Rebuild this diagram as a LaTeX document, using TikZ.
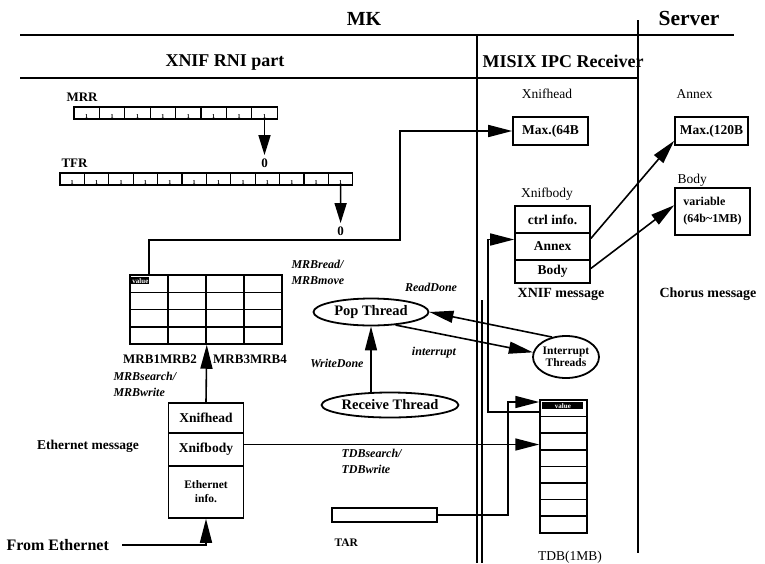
\documentclass[tikz,border=0pt]{standalone}
\usepackage{fontspec}
\setmainfont{Liberation Serif}
\usetikzlibrary{arrows.meta,positioning,shapes.geometric,calc}
\tikzset{
  hrule/.style={line width=2pt},
  vrule/.style={line width=2.8pt},
  bitcell/.style={draw, line width=1.3pt, minimum height=12pt, inner sep=0pt,
                  label={[anchor=south, inner sep=0.8pt, font=\bfseries\fontsize{6}{6}\selectfont]south:1}},
  mrbcell/.style={draw, line width=1.5pt, minimum width=38pt, minimum height=17.25pt, inner sep=0pt},
  tdbcell/.style={draw, line width=1.5pt, minimum width=47pt, minimum height=16.6pt, inner sep=0pt},
  valtag/.style={anchor=north west, fill=black, text=white, inner sep=1pt,
                 font=\bfseries\fontsize{7}{7}\selectfont},
  msgbox/.style={draw, line width=1.6pt, minimum width=75pt, inner sep=0pt, align=center,
                 font=\bfseries\fontsize{13.5}{15}\selectfont},
  thread/.style={draw, line width=1.8pt, ellipse, inner sep=0pt, font=\bfseries\fontsize{14.5}{16}\selectfont},
  big/.style={font=\bfseries\fontsize{20}{22}\selectfont},
  head/.style={font=\bfseries\fontsize{18}{20}\selectfont},
  lbl/.style={font=\bfseries\fontsize{13}{15}\selectfont},
  plain/.style={font=\fontsize{13.5}{15}\selectfont},
  act/.style={font=\bfseries\itshape\fontsize{12}{16}\selectfont, align=left},
  conn/.style={line width=1.6pt, -{Triangle[length=24pt,width=12pt]}},
  bitarrow/.style={line width=1.6pt, -{Triangle[length=20pt,width=12pt]}},
}

\begin{document}
\begin{tikzpicture}[x=1pt, y=-1pt, >=Stealth]
  \useasboundingbox (0,0) rectangle (765,563);
  \node[big] (mk) at (364,19) {MK};
  \node[big, font=\bfseries\fontsize{21.5}{22}\selectfont] (server) at (689,18) {Server};
  \node[head] (rni) at (225,63) {XNIF RNI part};
  \node[head, anchor=west] (misix) at (479,61) {MISIX IPC Receiver};
  \draw[hrule] (20,35) -- (734,35);
  \draw[hrule] (20,78) -- (638,78);

  \node[lbl, anchor=west] (mrrlab) at (63,97) {MRR};
  \foreach \i in {1,...,8}
    \node[bitcell, minimum width=25.4pt] (mrr\i) at ({74+25.4*(\i-0.5)},113) {};
  \node[lbl, anchor=west] (tfrlab) at (58,163) {TFR};
  \node[lbl] (mrrzero) at (mrr8.south |- tfrlab) {0};
  \foreach \i in {1,...,12}
    \node[bitcell, minimum width=24.4pt] (tfr\i) at ({60+24.4*(\i-0.5)},179) {};
  \node[lbl] (tfrzero) at (340.6,231) {0};
  \draw[bitarrow] (mrr8.south) -- (mrrzero.north);
  \draw[bitarrow] (tfr12.south) -- (tfrzero.north);

  \foreach \r in {1,...,4}
    \foreach \c in {1,...,4}
      \node[mrbcell] (mrb-\r-\c) at ({130+38*(\c-0.5)},{275+17.25*(\r-0.5)}) {};
  \node[valtag] (mrbval) at ([shift={(2pt,-3pt)}]mrb-1-1.north west) {value};
  \node[lbl] (mrb12) at (160,359) {MRB1MRB2};
  \node[lbl] (mrb34) at (250,359) {MRB3MRB4};
  \node[act, anchor=west] (mrbsw) at (110,384) {MRBsearch/\\MRBwrite};
  \node[act, anchor=west] (mrbrm) at (288,272) {MRBread/\\MRBmove};

  \node[msgbox, minimum height=30pt] (xh) at (206,418) {Xnifhead};
  \node[msgbox, minimum height=33pt] (xb) at (206,449.5) {Xnifbody};
  \node[msgbox, minimum height=52pt, font=\bfseries\fontsize{11.5}{14}\selectfont] (ei) at (206,492) {Ethernet\\info.};
  \node[lbl, font=\bfseries\fontsize{13.5}{15}\selectfont] (ethmsg) at (88,446) {Ethernet message};
  \node[anchor=west, font=\bfseries\fontsize{16}{18}\selectfont] (frometh) at (3,545) {From Ethernet};

  \node[thread, minimum width=115pt, minimum height=27pt] (pop) at (371,312) {Pop Thread};
  \node[thread, minimum width=126pt, minimum height=25pt] (recv) at (390,405) {Receive Thread};
  \node[thread, minimum width=66pt, minimum height=42pt, align=center,
        font=\bfseries\fontsize{11.5}{12.5}\selectfont] (intr) at (566,357) {Interrupt\\Threads};
  \node[act] (readdone) at (431,287) {ReadDone};
  \node[act] (writedone) at (337,363) {WriteDone};
  \node[act] (irq) at (434,353) {interrupt};
  \node[act, anchor=west] (tdbsw) at (338,461) {TDBsearch/\\TDBwrite};

  \node[draw, line width=1.5pt, minimum width=105pt, minimum height=14pt, inner sep=0pt] (tar) at (384.5,515) {};
  \node[lbl, anchor=west, font=\bfseries\fontsize{11.5}{13}\selectfont] (tarlab) at (331,543) {TAR};
  \foreach \k in {1,...,8}
    \node[tdbcell] (tdb\k) at (563.5,{400+16.6*(\k-0.5)}) {};
  \node[valtag, minimum width=41pt] (tdbval) at ([shift={(3pt,-3pt)}]tdb1.north west) {value};
  \node[plain] (tdblab) at (570,557) {TDB(1MB)};

  \node[plain] (xhlab) at (547,94) {Xnifhead};
  \node[msgbox, minimum height=28pt] (xhmax) at (550.5,131) {Max.(64B};
  \node[plain] (xblab) at (547,194) {Xnifbody};
  \node[msgbox, minimum height=27pt] (xbctrl) at (552.5,219.5) {ctrl info.};
  \node[msgbox, minimum height=27pt] (xbannex) at (552.5,246.5) {Annex};
  \node[msgbox, minimum height=23pt] (xbbody) at (552.5,271.5) {Body};
  \node[lbl, font=\bfseries\fontsize{14}{16}\selectfont] (xnifmsg) at (561,294) {XNIF message};

  \node[plain, anchor=west] (anxlab) at (673,94) {Annex};
  \node[msgbox, minimum width=73pt, minimum height=28pt] (sxannex) at (711.5,131) {Max.(120B};
  \node[plain, anchor=west] (bodylab) at (674,180) {Body};
  \node[draw, line width=1.6pt, minimum width=75pt, minimum height=47pt, align=left, inner xsep=4pt,
        font=\bfseries\fontsize{12}{17}\selectfont] (sxbody) at (712.5,211.5) {variable\\(64b\textasciitilde1MB)};
  \node[lbl, font=\bfseries\fontsize{14}{16}\selectfont] (chorus) at (708,294) {Chorus message};

  \draw[vrule] (638,20) -- (638,553);
  \draw[vrule] (477,35) -- (477,563);
  \draw[line width=1.4pt] (482,300) -- (482,563);

  \coordinate (hop) at (400,240);
  \draw[conn] (mrb-1-1.north) |- (hop) |- (xhmax.west);
  \draw[conn] (xh.north) -- (mrb-4-2.south east);
  \draw[conn] ([xshift=10pt]frometh.east) -| (ei.south);
  \draw[conn] ([yshift=5pt]xb.east) -- ([yshift=5pt]xb.east -| tdb3.west);
  \draw[conn] (recv.north -| pop.south) -- (pop.south);
  \draw[conn] (intr.125) -- (pop.east);
  \draw[conn] (pop.-28) -- (intr.172);
  \coordinate (tap) at (488,412);
  \draw[conn] (tap -| tdb1.west) -- (tap) |- ([yshift=7pt]xbannex.west);
  \coordinate (tarbend) at (508,402);
  \draw[conn] (tar.east) -| (tarbend) -- (tarbend -| tdb1.west);
  \draw[conn] ([yshift=8pt]xbannex.east) -- ([yshift=5pt]sxannex.south west);
  \draw[conn] ([yshift=3pt]xbbody.east) -- ([yshift=-18pt]sxbody.north west);
\end{tikzpicture}
\end{document}
